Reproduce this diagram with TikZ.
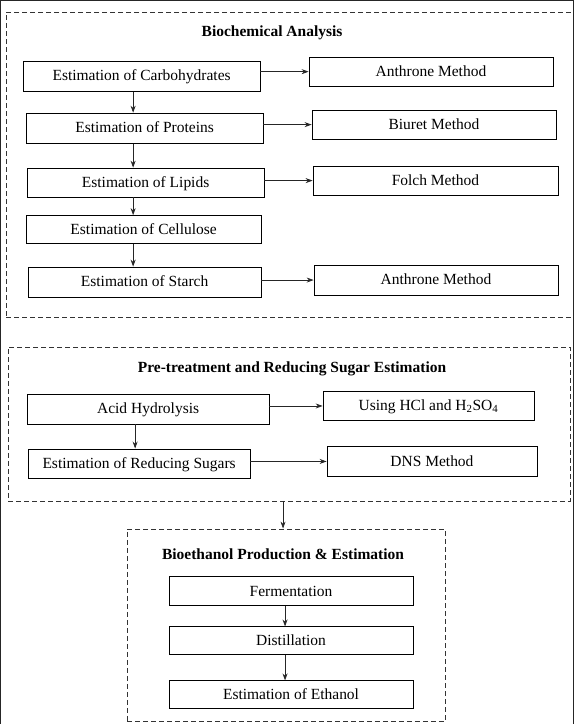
\documentclass[tikz,border=0pt]{standalone}
\usepackage{fontspec}
\setmainfont{Liberation Serif}
\usetikzlibrary{arrows.meta}

\begin{document}
\begin{tikzpicture}[
  x=1pt,y=-1pt,
  >={Stealth[length=7pt,width=5pt]},
  every node/.style={font=\fontsize{15.5}{18}\selectfont},
  step node/.style={rectangle,draw=black,line width=0.8pt,inner sep=0pt,minimum height=29pt,text height=11.5pt,text depth=2pt},
  method node/.style={rectangle,draw=black,line width=0.8pt,inner sep=0pt,minimum height=29pt,text height=11.5pt,text depth=2pt},
  group frame/.style={rectangle,draw=black!80,line width=0.7pt,dash pattern=on 5pt off 3pt,inner sep=0pt},
  group title/.style={font=\fontsize{15.5}{18}\selectfont\bfseries},
  every path/.style={draw=black!85},
  flow/.style={->,line width=0.8pt},
]
\useasboundingbox (0,0) rectangle (573,724);
% frames
\node[group frame,minimum width=590pt,minimum height=305pt] (bio) at (301,164.5) {};
\node[group frame,minimum width=562pt,minimum height=154pt] (pre) at (289,424) {};
\node[group frame,minimum width=318pt,minimum height=193pt] (eth) at (286,625.5) {};
\node[group title] (bioT) at (272,33) {Biochemical Analysis};
\node[group title] (preT) at (292,369) {Pre-treatment and Reducing Sugar Estimation};
\node[group title] (ethT) at (283,554) {Bioethanol Production \& Estimation};
\coordinate (colA) at (133,0);
\coordinate (colB) at (135,0);
\coordinate (colC) at (283,0);
\coordinate (colD) at (285,0);
% biochemical analysis
\node[step node,minimum width=237pt,minimum height=30pt] (carb) at (141.5,76) {Estimation of Carbohydrates};
\node[step node,minimum width=237pt,minimum height=30pt] (prot) at (144.5,128) {Estimation of Proteins};
\node[step node,minimum width=237pt] (lip) at (145.5,182.5) {Estimation of Lipids};
\node[step node,minimum width=235pt,minimum height=28pt] (cell) at (143.5,229.5) {Estimation of Cellulose};
\node[step node,minimum width=233pt,minimum height=30pt] (star) at (144.5,282) {Estimation of Starch};
\node[method node,minimum width=244pt] (anth1) at (431,71.5) {Anthrone Method};
\node[method node,minimum width=244pt] (biu) at (434,124.5) {Biuret Method};
\node[method node,minimum width=245pt] (fol) at (435.5,180.5) {Folch Method};
\node[method node,minimum width=244pt,minimum height=30pt] (anth2) at (436,280) {Anthrone Method};
\draw[flow] (carb.south -| colA) -- (prot.north -| colA);
\draw[flow] (prot.south -| colA) -- (lip.north -| colA);
\draw[flow] (lip.south -| colA) -- (cell.north -| colA);
\draw[flow] (cell.south -| colA) -- (star.north -| colA);
\draw[flow] (carb.east |- anth1.west) -- (anth1.west);
\draw[flow] (prot.east |- biu.west) -- (biu.west);
\draw[flow] (lip.east |- fol.west) -- (fol.west);
\draw[flow] (star.east |- anth2.west) -- (anth2.west);
% pre-treatment
\node[step node,minimum width=242pt,minimum height=30pt] (acid) at (148,409) {Acid Hydrolysis};
\node[step node,minimum width=222pt] (red) at (139,463.5) {Estimation of Reducing Sugars};
\node[method node,minimum width=211pt] (hcl) at (428.5,406) {Using HCl and H\textsubscript{2}SO\textsubscript{4}};
\node[method node,minimum width=210pt,minimum height=30pt] (dns) at (432,461.5) {DNS Method};
\draw[flow] (acid.south -| colB) -- (red.north -| colB);
\draw[flow] (acid.east |- hcl.west) -- (hcl.west);
\draw[flow] (red.east |- dns.west) -- (dns.west);
\draw[flow] (pre.south -| colC) -- (eth.north -| colC);
% bioethanol
\node[step node,minimum width=244pt] (ferm) at (291,591.5) {Fermentation};
\node[step node,minimum width=244pt,minimum height=28pt] (dist) at (291,641) {Distillation};
\node[step node,minimum width=244pt,minimum height=28pt] (etoh) at (291,695) {Estimation of Ethanol};
\draw[flow] (ferm.south -| colD) -- (dist.north -| colD);
\draw[flow] (dist.south -| colD) -- (etoh.north -| colD);
\end{tikzpicture}
\end{document}
